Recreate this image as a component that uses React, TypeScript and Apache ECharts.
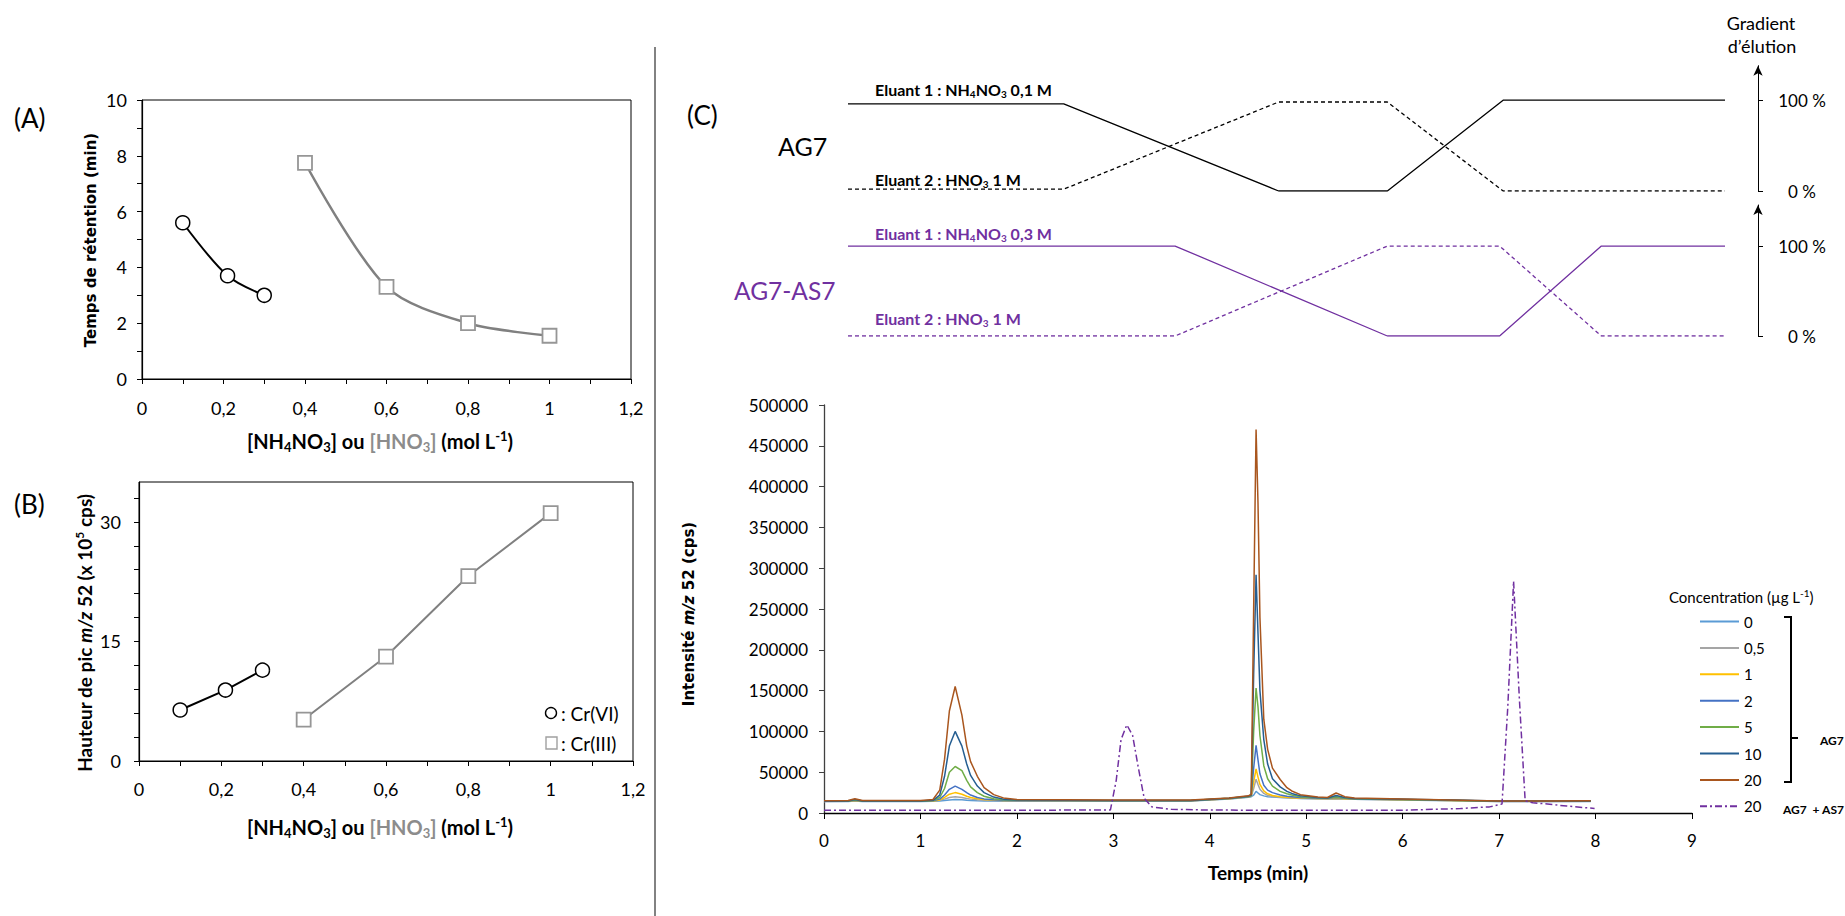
import React, { useEffect, useRef } from "react";
import * as echarts from "echarts";

// ---------- Panel A & B data ----------
const CR6_CONC = [0.1, 0.21, 0.3];
const CR3_CONC = [0.4, 0.6, 0.8, 1.0];
const CR6_RT = [5.6, 3.7, 3.0];
const CR3_RT = [7.75, 3.3, 2.0, 1.55];
const CR6_HEIGHT = [6.4, 8.9, 11.4];
const CR3_HEIGHT = [5.2, 13.1, 23.2, 31.1];

const X_TICKS_AB = [0, 0.1, 0.2, 0.3, 0.4, 0.5, 0.6, 0.7, 0.8, 0.9, 1.0, 1.1, 1.2];
const X_LABELS_AB = [0, 0.2, 0.4, 0.6, 0.8, 1.0, 1.2];
const A_Y_TICKS = [0, 1, 2, 3, 4, 5, 6, 7, 8, 9, 10];
const A_Y_LABELS = [0, 2, 4, 6, 8, 10];
const B_Y_TICKS = [0, 3, 6, 9, 12, 15, 18, 21, 24, 27, 30, 33];
const B_Y_LABELS = [0, 15, 30];

// ---------- Panel C gradient data (x: % of program width, y: % eluent) ----------
const AG7_X = [0, 24.6, 49.1, 61.5, 74.7, 100];
const AG7_E1 = [96, 96, 0, 0, 100, 100];
const AG7_E2 = [2, 2, 98, 98, 0, 0];
const AS7_X = [0, 37.3, 61.5, 74.3, 85.9, 100];
const AS7_E1 = [100, 100, 0, 0, 100, 100];
const AS7_E2 = [0, 0, 100, 100, 0, 0];
const GRAD_TICKS = [0, 100];

// ---------- Chromatograms ----------
const T = [0, 0.25, 0.32, 0.4, 1.0, 1.13, 1.2, 1.25, 1.3, 1.36, 1.43, 1.48, 1.52, 1.59, 1.66, 1.76, 1.86, 2.0, 3.0, 3.8, 4.2, 4.4, 4.43, 4.455, 4.48, 4.5, 4.52, 4.56, 4.6, 4.65, 4.73, 4.8, 4.85, 4.94, 5.12, 5.22, 5.31, 5.4, 5.5, 6.0, 6.5, 7.0, 7.5, 7.95];
const C0 = [14000, 14200, 14600, 14200, 14200, 14300, 14600, 15200, 16000, 16500, 16200, 15600, 15200, 14900, 14700, 14600, 14500, 14500, 14600, 14700, 17200, 19200, 20000, 22000, 26500, 24500, 22500, 21000, 20000, 19500, 19000, 18600, 18300, 17900, 17400, 17300, 17500, 17200, 16800, 16000, 15100, 14000, 14000, 14200];
const C05 = [14200, 14400, 15000, 14400, 14400, 14700, 15500, 17000, 19000, 20000, 19000, 17800, 17000, 16200, 15600, 15200, 15000, 14900, 14900, 14900, 17400, 19500, 20500, 30000, 41500, 35000, 29000, 24000, 21500, 20300, 19400, 18800, 18500, 18100, 17600, 17500, 17800, 17400, 17000, 16200, 15300, 14200, 14200, 14400];
const C1 = [14300, 14500, 15200, 14500, 14500, 14800, 16000, 19000, 23000, 25000, 23000, 20500, 19000, 17500, 16500, 15800, 15400, 15200, 15000, 15000, 17600, 19800, 20800, 38000, 54000, 44000, 35000, 27000, 23500, 21500, 20000, 19200, 18800, 18300, 17800, 17700, 18200, 17600, 17100, 16300, 15400, 14300, 14300, 14500];
const C2 = [14400, 14600, 15500, 14600, 14600, 15000, 17000, 22000, 29000, 33000, 29000, 25000, 22000, 19000, 17300, 16200, 15700, 15300, 15100, 15100, 17800, 20000, 21000, 55000, 83000, 65000, 48000, 34000, 28000, 25000, 22000, 20500, 20000, 19000, 18200, 18000, 19000, 18000, 17300, 16400, 15500, 14400, 14400, 14600];
const C5 = [14500, 14700, 16000, 14700, 14700, 15300, 19000, 30000, 50000, 57000, 52000, 40000, 32000, 25000, 20500, 17500, 16200, 15500, 15200, 15200, 18000, 20200, 21500, 100000, 153000, 130000, 95000, 58000, 42000, 33000, 26500, 23500, 22000, 20000, 18600, 18300, 20000, 18500, 17500, 16500, 15600, 14500, 14500, 14700];
const C10 = [14500, 14800, 16500, 14800, 14800, 15500, 22000, 45000, 82000, 100000, 82000, 60000, 46000, 33000, 25000, 19500, 17000, 15800, 15300, 15300, 18200, 20500, 22000, 170000, 292000, 220000, 150000, 90000, 60000, 42000, 32000, 26500, 24000, 21000, 19000, 18500, 21500, 19000, 17800, 16800, 15800, 14600, 14600, 14800];
const C20 = [15000, 15200, 17500, 15300, 15300, 16500, 28000, 66000, 125000, 155000, 120000, 82000, 63000, 45000, 31000, 22500, 18500, 16500, 15800, 15800, 18500, 21000, 23000, 250000, 470000, 380000, 240000, 115000, 78000, 55000, 41000, 31000, 27000, 22500, 19500, 19000, 24500, 20000, 18300, 17200, 16000, 14800, 14800, 15000];
const PT = [0, 1.0, 2.0, 2.97, 3.03, 3.08, 3.14, 3.2, 3.26, 3.32, 3.4, 3.6, 4.0, 5.0, 6.0, 6.6, 6.9, 7.03, 7.09, 7.15, 7.21, 7.27, 7.35, 7.5, 7.7, 7.9, 7.99];
const PV = [3500, 3400, 3300, 3800, 40000, 90000, 108000, 95000, 55000, 18000, 7500, 4500, 3600, 3300, 3400, 5500, 7500, 11000, 130000, 284000, 140000, 15000, 12500, 11000, 8500, 6500, 5500];

const CONC_NAMES = ["0", "0,5", "1", "2", "5", "10", "20"];
const CONC_VALUES = [C0, C05, C1, C2, C5, C10, C20];
const CONC_COLORS = ["#5B9BD5", "#A5A5A5", "#FFC000", "#4472C4", "#70AD47", "#255E91", "#A9561E"];
const MIX_NAME = "20 ";
const PURPLE = "#7030A0";

const LATO = 'Lato, "Noto Sans", sans-serif';
const WIDE = '"DejaVu Sans", Verdana, sans-serif';

const zip = (xs: number[], ys: number[]) => xs.map((x, i) => [x, ys[i]]);
const fmtComma = (v: number) => String(v).replace(".", ",");

function rich(size: number, weight: string, fill: string, family: string, gray = "#8C8C8C") {
  const sub = Math.round(size * 0.64);
  const base = { fontFamily: family, fontWeight: weight };
  return {
    s: { ...base, fontSize: sub, fill, padding: [Math.round(size * 0.62), 0, 0, 0] },
    p: { ...base, fontSize: sub, fill, padding: [0, 0, Math.round(size * 0.5), 0] },
    i: { ...base, fontSize: size, fill, fontStyle: "italic" },
    g: { ...base, fontSize: size, fill: gray },
    gs: { ...base, fontSize: sub, fill: gray, padding: [Math.round(size * 0.62), 0, 0, 0] },
  };
}

function txt(x: number, y: number, text: string, o: any = {}) {
  const size = o.size || 17;
  const weight = o.weight || "normal";
  const fill = o.fill || "#000";
  const align = o.align || "left";
  const family = o.family || LATO;
  return {
    type: "text",
    x,
    y,
    rotation: o.rotation || 0,
    z: 10,
    style: {
      text,
      fill,
      fontFamily: family,
      fontSize: size,
      fontWeight: weight,
      align,
      verticalAlign: "middle",
      textAlign: align,
      textVerticalAlign: "middle",
      rich: rich(size, weight, fill, family),
    },
  };
}

const axisText = { fontFamily: LATO, color: "#000" };

function abX(grid: number, margin: number) {
  return {
    gridIndex: grid,
    type: "value",
    min: 0,
    max: 1.2,
    interval: 0.2,
    axisLine: { show: true, onZero: false, lineStyle: { color: "#000", width: 1.2 } },
    axisTick: { show: true, customValues: X_TICKS_AB, length: 5, lineStyle: { color: "#000" } },
    axisLabel: { customValues: X_LABELS_AB, formatter: fmtComma, margin, fontSize: 18, ...axisText },
    splitLine: { show: false },
  };
}

function gradY(grid: number, max: number) {
  return {
    gridIndex: grid,
    type: "value",
    position: "right",
    offset: 33,
    min: 0,
    max,
    interval: 100,
    axisLine: { show: true, onZero: false, symbol: ["none", "arrow"], symbolSize: [7, 10], lineStyle: { color: "#000", width: 1 } },
    axisTick: { show: true, customValues: GRAD_TICKS, length: 5, lineStyle: { color: "#000" } },
    axisLabel: { customValues: GRAD_TICKS, formatter: (v: number) => v + " %", align: "center", margin: 44, fontSize: 17, ...axisText },
    splitLine: { show: false },
  };
}

function gradSeries(grid: number, xs: number[], ys: number[], color: string, dashed: boolean) {
  return {
    type: "line",
    xAxisIndex: grid,
    yAxisIndex: grid,
    data: zip(xs, ys),
    symbol: "none",
    silent: true,
    lineStyle: { color, width: 1.3, type: dashed ? [4, 3] : "solid" },
  };
}

export default function App() {
  const ref = useRef<HTMLDivElement>(null);

  useEffect(() => {
    if (!ref.current) return;
    const chart = echarts.init(ref.current, undefined, { renderer: "svg" });

    const chromSeries: any[] = CONC_NAMES.map((name, k) => ({
      name,
      type: "line",
      xAxisIndex: 2,
      yAxisIndex: 2,
      data: zip(T, CONC_VALUES[k]),
      symbol: "none",
      z: 2 + k,
      itemStyle: { color: CONC_COLORS[k] },
      lineStyle: { color: CONC_COLORS[k], width: 1.5 },
    }));
    chromSeries.push({
      name: MIX_NAME,
      type: "line",
      xAxisIndex: 2,
      yAxisIndex: 2,
      data: zip(PT, PV),
      symbol: "none",
      z: 10,
      itemStyle: { color: PURPLE },
      lineStyle: { color: PURPLE, width: 1.5, type: [7, 3, 2, 3] },
    });

    const option: any = {
      animation: false,
      backgroundColor: "#fff",
      grid: [
        { left: 142, top: 100, width: 489, height: 279, show: true, borderColor: "#000", borderWidth: 1 },
        { left: 139, top: 482, width: 494, height: 279, show: true, borderColor: "#000", borderWidth: 1 },
        { left: 824, top: 405, width: 868, height: 408 },
        { left: 848, top: 65.7, width: 877, height: 125.3 },
        { left: 848, top: 205, width: 877, height: 131 },
      ],
      xAxis: [
        abX(0, 20),
        abX(1, 19),
        {
          gridIndex: 2,
          type: "value",
          min: 0,
          max: 9,
          interval: 1,
          axisLine: { show: true, onZero: false, lineStyle: { color: "#000", width: 1.3 } },
          axisTick: { show: true, length: 6, lineStyle: { color: "#000" } },
          axisLabel: { margin: 19, fontSize: 17, ...axisText },
          splitLine: { show: false },
        },
        { gridIndex: 3, type: "value", min: 0, max: 100, show: false },
        { gridIndex: 4, type: "value", min: 0, max: 100, show: false },
      ],
      yAxis: [
        {
          gridIndex: 0,
          type: "value",
          min: 0,
          max: 10,
          interval: 2,
          axisLine: { show: true, onZero: false, lineStyle: { color: "#000", width: 1.2 } },
          axisTick: { show: true, customValues: A_Y_TICKS, length: 5, lineStyle: { color: "#000" } },
          axisLabel: { customValues: A_Y_LABELS, margin: 15, fontSize: 18, ...axisText },
          splitLine: { show: false },
        },
        {
          gridIndex: 1,
          type: "value",
          min: 0,
          max: 35,
          interval: 15,
          axisLine: { show: true, onZero: false, lineStyle: { color: "#000", width: 1.2 } },
          axisTick: { show: true, customValues: B_Y_TICKS, length: 5, lineStyle: { color: "#000" } },
          axisLabel: { customValues: B_Y_LABELS, margin: 18, fontSize: 18, ...axisText },
          splitLine: { show: false },
        },
        {
          gridIndex: 2,
          type: "value",
          min: 0,
          max: 500000,
          interval: 50000,
          axisLine: { show: true, onZero: false, lineStyle: { color: "#404040", width: 1.3 } },
          axisTick: { show: true, length: 5, lineStyle: { color: "#404040" } },
          axisLabel: { formatter: (v: number) => String(v), margin: 16, fontSize: 17, ...axisText },
          splitLine: { show: false },
        },
        gradY(3, 138),
        gradY(4, 145.6),
      ],
      legend: {
        data: [...CONC_NAMES, MIX_NAME],
        orient: "vertical",
        left: 1699,
        top: 614,
        padding: 0,
        itemWidth: 39,
        itemHeight: 14,
        itemGap: 11.4,
        selectedMode: false,
        itemStyle: { opacity: 0 },
        textStyle: { fontFamily: LATO, fontSize: 15, color: "#000" },
      },
      series: [
        {
          type: "line",
          xAxisIndex: 0,
          yAxisIndex: 0,
          data: zip(CR6_CONC, CR6_RT),
          smooth: 0.3,
          symbol: "circle",
          symbolSize: 14,
          lineStyle: { color: "#000", width: 2 },
          itemStyle: { color: "#fff", borderColor: "#000", borderWidth: 1.5 },
        },
        {
          type: "line",
          xAxisIndex: 0,
          yAxisIndex: 0,
          data: zip(CR3_CONC, CR3_RT),
          smooth: 0.3,
          symbol: "rect",
          symbolSize: 14,
          lineStyle: { color: "#808080", width: 2.5 },
          itemStyle: { color: "#fff", borderColor: "#969696", borderWidth: 1.8 },
        },
        {
          type: "line",
          xAxisIndex: 1,
          yAxisIndex: 1,
          data: zip(CR6_CONC, CR6_HEIGHT),
          symbol: "circle",
          symbolSize: 14,
          lineStyle: { color: "#000", width: 2 },
          itemStyle: { color: "#fff", borderColor: "#000", borderWidth: 1.5 },
        },
        {
          type: "line",
          xAxisIndex: 1,
          yAxisIndex: 1,
          data: zip(CR3_CONC, CR3_HEIGHT),
          symbol: "rect",
          symbolSize: 14,
          lineStyle: { color: "#808080", width: 2 },
          itemStyle: { color: "#fff", borderColor: "#969696", borderWidth: 1.8 },
        },
        gradSeries(3, AG7_X, AG7_E1, "#000", false),
        gradSeries(3, AG7_X, AG7_E2, "#000", true),
        gradSeries(4, AS7_X, AS7_E1, PURPLE, false),
        gradSeries(4, AS7_X, AS7_E2, PURPLE, true),
        ...chromSeries,
      ],
      graphic: {
        elements: [
          { type: "line", shape: { x1: 655, y1: 47, x2: 655, y2: 916 }, style: { stroke: "#595959", lineWidth: 1.5 } },
          txt(14, 118, "(A)", { size: 26 }),
          txt(14, 504, "(B)", { size: 26 }),
          txt(687, 115, "(C)", { size: 26 }),
          // Panel A titles
          txt(91, 240, "Temps de rétention (min)", { size: 15, weight: "bold", align: "center", rotation: Math.PI / 2, family: WIDE }),
          txt(380, 441, "[NH{s|4}NO{s|3}] ou {g|[HNO}{gs|3}{g|]} (mol L{p|-1})", { size: 20, weight: "bold", align: "center" }),
          // Panel B titles
          txt(84, 633, "Hauteur de pic {i|m/z} 52 (x 10{p|5} cps)", { size: 19, weight: "bold", align: "center", rotation: Math.PI / 2 }),
          txt(380, 827, "[NH{s|4}NO{s|3}] ou {g|[HNO}{gs|3}{g|]} (mol L{p|-1})", { size: 20, weight: "bold", align: "center" }),
          // Panel B legend
          { type: "circle", shape: { cx: 551, cy: 713, r: 5.5 }, style: { fill: "#fff", stroke: "#000", lineWidth: 1.4 }, z: 10 },
          txt(561, 713, ": Cr(VI)", { size: 19 }),
          { type: "rect", shape: { x: 546, y: 737, width: 11, height: 12 }, style: { fill: "#fff", stroke: "#A0A0A0", lineWidth: 1.4 }, z: 10 },
          txt(561, 743, ": Cr(III)", { size: 19 }),
          // Panel C gradient labels
          txt(778, 146, "AG7", { size: 25 }),
          txt(734, 290, "AG7-AS7", { size: 24.5, fill: PURPLE }),
          txt(875, 89, "Eluant 1 : NH{s|4}NO{s|3} 0,1 M", { size: 16, weight: "bold" }),
          txt(875, 179, "Eluant 2 : HNO{s|3} 1 M", { size: 16, weight: "bold" }),
          txt(875, 233, "Eluant 1 : NH{s|4}NO{s|3} 0,3 M", { size: 16, weight: "bold", fill: PURPLE }),
          txt(875, 318, "Eluant 2 : HNO{s|3} 1 M", { size: 16, weight: "bold", fill: PURPLE }),
          txt(1761, 23, "Gradient", { size: 18, align: "center" }),
          txt(1762, 46, "d’élution", { size: 18, align: "center" }),
          // Chromatogram titles
          txt(689, 614, "Intensité {i|m/z} 52 (cps)", { size: 15, weight: "bold", align: "center", rotation: Math.PI / 2, family: WIDE }),
          txt(1258, 872, "Temps (min)", { size: 19, weight: "bold", align: "center" }),
          // Legend title and bracket
          txt(1669, 597, "Concentration (µg L{p|-1})", { size: 15 }),
          { type: "polyline", shape: { points: [[1784, 617], [1791, 617], [1791, 782], [1784, 782]] }, style: { stroke: "#000", lineWidth: 2, fill: null }, z: 10 },
          { type: "line", shape: { x1: 1791, y1: 738, x2: 1798, y2: 738 }, style: { stroke: "#000", lineWidth: 2 }, z: 10 },
          txt(1820, 740, "AG7", { size: 12, weight: "bold" }),
          txt(1783, 809, "AG7  + AS7", { size: 12, weight: "bold" }),
        ],
      },
    };

    chart.setOption(option);
    return () => chart.dispose();
  }, []);

  return (
    <div
      ref={ref}
      style={{ position: "absolute", left: 0, top: 0, width: 1845, height: 916, background: "#fff" }}
    />
  );
}
